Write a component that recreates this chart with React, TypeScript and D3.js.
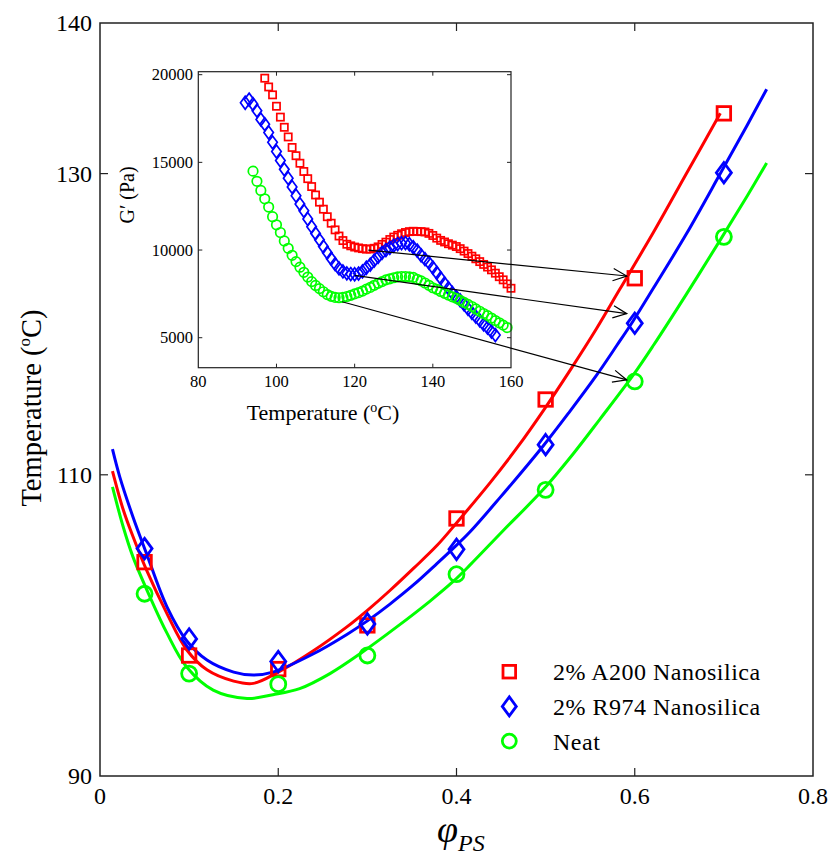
import React from 'react';
import * as d3 from 'd3';

const W = 832;
const H = 859;
const FONT = "'Liberation Serif', 'Times New Roman', serif";

// ---- main plot: transition temperature vs volume fraction of PS
const phiPoints = [0.05, 0.1, 0.2, 0.3, 0.4, 0.5, 0.6, 0.7];
const a200Points = [104.2, 98.0, 97.1, 100.0, 107.1, 115.0, 123.05, 134.0];
const r974Points = [105.1, 99.1, 97.6, 100.1, 105.05, 112.0, 120.06, 130.06];
const neatPoints = [102.1, 96.8, 96.1, 98.0, 103.4, 109.0, 116.2, 125.8];

// fitted curves
const a200FitPhi = [0.014, 0.026, 0.037, 0.052, 0.075, 0.097, 0.12, 0.15, 0.172, 0.2, 0.239, 0.277, 0.3, 0.325, 0.352, 0.378, 0.4, 0.438, 0.468, 0.499, 0.527, 0.557, 0.583, 0.621, 0.658, 0.696];
const a200FitT = [110.25, 107.7, 105.9, 103.7, 100.8, 98.4, 97.05, 96.3, 96.15, 96.9, 98.3, 99.9, 101.0, 102.3, 103.8, 105.3, 106.8, 109.5, 111.8, 114.4, 116.9, 119.7, 122.3, 126.1, 130.0, 134.0];

const r974FitPhi = [0.014, 0.022, 0.037, 0.052, 0.075, 0.097, 0.12, 0.15, 0.172, 0.194, 0.239, 0.277, 0.3, 0.325, 0.352, 0.378, 0.396, 0.415, 0.449, 0.497, 0.527, 0.557, 0.58, 0.598, 0.621, 0.658, 0.696, 0.726, 0.748];
const r974FitT = [111.7, 109.9, 107.2, 104.8, 101.25, 99.0, 97.7, 96.9, 96.7, 96.9, 98.1, 99.4, 100.3, 101.4, 102.7, 104.1, 105.1, 106.2, 108.5, 111.9, 114.2, 116.6, 118.6, 120.2, 122.4, 126.0, 130.0, 133.2, 135.6];

const neatFitPhi = [0.014, 0.026, 0.037, 0.056, 0.075, 0.097, 0.127, 0.165, 0.194, 0.224, 0.258, 0.295, 0.333, 0.37, 0.396, 0.415, 0.4525, 0.497, 0.531, 0.561, 0.598, 0.621, 0.658, 0.696, 0.726, 0.748];
const neatFitT = [109.2, 106.55, 104.55, 101.9, 99.5, 97.25, 95.7, 95.15, 95.4, 95.8, 96.8, 98.25, 99.9, 101.6, 102.9, 104.0, 106.3, 109.0, 111.4, 113.7, 116.6, 118.6, 122.0, 125.6, 128.5, 130.7];

// ---- inset: storage modulus vs temperature
const a200Temp = [97, 98, 99, 100, 101, 102, 103, 104, 105, 106, 107, 108, 109, 110, 111, 112, 113, 114, 115, 116, 117, 118, 119, 120, 121, 122, 123, 124, 125, 126, 127, 128, 129, 130, 131, 132, 133, 134, 135, 136, 137, 138, 139, 140, 141, 142, 143, 144, 145, 146, 147, 148, 149, 150, 151, 152, 153, 154, 155, 156, 157, 158, 159, 160];
const a200G = [19800, 19300, 18850, 18200, 17580, 17000, 16450, 15850, 15380, 14950, 14480, 14070, 13620, 13140, 12730, 12330, 11900, 11530, 11150, 10800, 10540, 10330, 10240, 10170, 10120, 10080, 10050, 10060, 10100, 10180, 10320, 10450, 10600, 10740, 10840, 10930, 11000, 11050, 11070, 11060, 11050, 11030, 10950, 10830, 10680, 10550, 10460, 10360, 10280, 10200, 10080, 9940, 9800, 9650, 9500, 9340, 9180, 9030, 8870, 8680, 8480, 8300, 8070, 7820];

const r974Temp = [92, 93, 94, 95, 96, 97, 98, 99, 100, 101, 102, 103, 104, 105, 106, 107, 108, 109, 110, 111, 112, 113, 114, 115, 116, 117, 118, 119, 120, 121, 122, 123, 124, 125, 126, 127, 128, 129, 130, 131, 132, 133, 134, 135, 136, 137, 138, 139, 140, 141, 142, 143, 144, 145, 146, 147, 148, 149, 150, 151, 152, 153, 154, 155, 156];
const r974G = [18400, 18580, 18320, 17950, 17450, 17180, 16700, 16140, 15620, 15100, 14600, 14100, 13600, 13100, 12620, 12240, 11770, 11330, 10950, 10580, 10200, 9850, 9510, 9200, 8950, 8780, 8670, 8630, 8620, 8660, 8780, 8990, 9170, 9400, 9610, 9840, 10000, 10130, 10250, 10340, 10390, 10400, 10330, 10160, 9970, 9700, 9480, 9280, 9000, 8700, 8400, 8100, 7820, 7550, 7330, 7130, 6900, 6650, 6420, 6200, 5990, 5760, 5570, 5350, 5150];

const neatTemp = [94, 95, 96, 97, 98, 99, 100, 101, 102, 103, 104, 105, 106, 107, 108, 109, 110, 111, 112, 113, 114, 115, 116, 117, 118, 119, 120, 121, 122, 123, 124, 125, 126, 127, 128, 129, 130, 131, 132, 133, 134, 135, 136, 137, 138, 139, 140, 141, 142, 143, 144, 145, 146, 147, 148, 149, 150, 151, 152, 153, 154, 155, 156, 157, 158, 159];
const neatG = [14500, 13920, 13400, 12920, 12450, 11900, 11440, 11000, 10520, 10100, 9700, 9340, 9020, 8730, 8460, 8200, 7980, 7800, 7620, 7460, 7360, 7300, 7280, 7300, 7350, 7420, 7500, 7570, 7660, 7770, 7870, 7990, 8100, 8200, 8300, 8360, 8420, 8470, 8490, 8490, 8470, 8440, 8330, 8240, 8120, 7990, 7850, 7760, 7640, 7530, 7430, 7330, 7250, 7130, 7010, 6900, 6780, 6640, 6510, 6380, 6260, 6120, 5980, 5850, 5720, 5580];

// arrows: inset minimum (T, G') -> main plot point (phi, T)
const arrowFromT = [123.5, 120, 116.8];
const arrowFromG = [10000, 8550, 7050];
const arrowToPhi = [0.591, 0.591, 0.591];
const arrowToT = [123.2, 120.7, 116.3];

const legendLabels = ['2% A200 Nanosilica', '2% R974 Nanosilica', 'Neat'];
const colors = ['#ff0000', '#0000ff', '#00ff00'];
const shapes = ['square', 'diamond', 'circle'];

const mainYTickLabels = [90, 110, 130, 140];
const mainYTickMarks = [110, 130];
const mainXTickLabels = [0, 0.2, 0.4, 0.6, 0.8];
const mainXTickMarks = [0.2, 0.4, 0.6];
const insetXTickLabels = [80, 100, 120, 140, 160];
const insetXTickMarks = [100, 120, 140];
const insetYTicks = [5000, 10000, 15000, 20000];

function Marker({ shape, cx, cy, color, size, sw }: any) {
  if (shape === 'square') {
    const s = size * 0.9;
    return <rect x={cx - s / 2} y={cy - s / 2} width={s} height={s} fill="none" stroke={color} strokeWidth={sw} />;
  }
  if (shape === 'diamond') {
    const w = size * 0.5, h = size * 0.68;
    return <path d={`M${cx},${cy - h}L${cx + w},${cy}L${cx},${cy + h}L${cx - w},${cy}Z`} fill="none" stroke={color} strokeWidth={sw} />;
  }
  return <circle cx={cx} cy={cy} r={size * 0.5} fill="none" stroke={color} strokeWidth={sw} />;
}

export default function App() {
  const x = d3.scaleLinear().domain([0, 0.8]).range([100, 813]);
  const y = d3.scaleLinear().domain([90, 140]).range([776, 23]);
  const ix = d3.scaleLinear().domain([80, 160]).range([198.3, 511]);
  const iy = d3.scaleLinear().domain([3290, 20170]).range([367.7, 71.7]);

  const line = d3.line<[number, number]>()
    .x(d => x(d[0])).y(d => y(d[1]))
    .curve(d3.curveCatmullRom.alpha(0.5));

  const fits = [
    d3.zip(a200FitPhi, a200FitT),
    d3.zip(r974FitPhi, r974FitT),
    d3.zip(neatFitPhi, neatFitT),
  ] as [number, number][][];
  const points = [a200Points, r974Points, neatPoints];
  const inset = [
    d3.zip(a200Temp, a200G),
    d3.zip(r974Temp, r974G),
    d3.zip(neatTemp, neatG),
  ];

  const [x0, x1] = x.range();
  const [y0, y1] = y.range();
  const [ix0, ix1] = ix.range();
  const [iy0, iy1] = iy.range();

  const txt = { fontFamily: FONT };

  return (
    <div style={{ position: 'absolute', left: 0, top: 0 }}>
      <svg width={W} height={H} style={{ display: 'block', fontFamily: FONT }}>
        <rect width={W} height={H} fill="#fff" />

        {/* fitted curves */}
        {fits.map((f, i) => (
          <path key={'fit' + i} d={line(f) || ''} fill="none" stroke={colors[i]} strokeWidth={3} />
        ))}

        {/* data points */}
        {points.map((s, i) => s.map((v, j) => (
          <Marker key={`p${i}-${j}`} shape={shapes[i]} cx={x(phiPoints[j])} cy={y(v)} color={colors[i]} size={15} sw={2.8} />
        )))}

        {/* main frame */}
        <rect x={x0} y={y1} width={x1 - x0} height={y0 - y1} fill="none" stroke="#222" strokeWidth={1.5} />
        {mainYTickMarks.map(t => (
          <g key={'yt' + t} stroke="#222" strokeWidth={1.2}>
            <line x1={x0} x2={x0 + 8} y1={y(t)} y2={y(t)} />
            <line x1={x1} x2={x1 - 8} y1={y(t)} y2={y(t)} />
          </g>
        ))}
        {mainXTickMarks.map(t => (
          <g key={'xt' + t} stroke="#222" strokeWidth={1.2}>
            <line x1={x(t)} x2={x(t)} y1={y0} y2={y0 - 8} />
            <line x1={x(t)} x2={x(t)} y1={y1} y2={y1 + 8} />
          </g>
        ))}
        {mainYTickLabels.map(t => (
          <text key={'yl' + t} style={txt} x={x0 - 8} y={y(t)} dy="0.35em" textAnchor="end" fontSize={24}>{t}</text>
        ))}
        {mainXTickLabels.map(t => (
          <text key={'xl' + t} style={txt} x={x(t)} y={804} textAnchor="middle" fontSize={24}>{t}</text>
        ))}
        <text style={txt} transform={`translate(41,${408}) rotate(-90)`} textAnchor="middle" fontSize={28.5}>
          Temperature  (<tspan fontSize={17} dy={-11}>o</tspan><tspan dy={11}>C)</tspan>
        </text>
        <text style={txt} x={437} y={842} fontSize={38} fontStyle="italic">
          φ<tspan fontSize={24} dy={9}>PS</tspan>
        </text>

        {/* inset */}
        <rect x={ix0} y={iy1} width={ix1 - ix0} height={iy0 - iy1} fill="#fff" />
        {inset.map((s, i) => s.map((d, j) => (
          <Marker key={`i${i}-${j}`} shape={shapes[i]} cx={ix(d[0])} cy={iy(d[1])} color={colors[i]} size={i === 0 ? 8 : 9.5} sw={1.7} />
        )))}
        <rect x={ix0} y={iy1} width={ix1 - ix0} height={iy0 - iy1} fill="none" stroke="#222" strokeWidth={1.2} />
        {insetXTickMarks.map(t => (
          <g key={'ixt' + t} stroke="#222" strokeWidth={1}>
            <line x1={ix(t)} x2={ix(t)} y1={iy0} y2={iy0 - 4} />
            <line x1={ix(t)} x2={ix(t)} y1={iy1} y2={iy1 + 4} />
          </g>
        ))}
        {insetYTicks.map(t => (
          <g key={'iyt' + t} stroke="#222" strokeWidth={1}>
            <line x1={ix0} x2={ix0 + 4} y1={iy(t)} y2={iy(t)} />
            <line x1={ix1} x2={ix1 - 4} y1={iy(t)} y2={iy(t)} />
          </g>
        ))}
        {insetYTicks.map(t => (
          <text key={'iyl' + t} style={txt} x={193} y={iy(t)} dy="0.35em" textAnchor="end" fontSize={16.5}>{t}</text>
        ))}
        {insetXTickLabels.map(t => (
          <text key={'ixl' + t} style={txt} x={ix(t)} y={387} textAnchor="middle" fontSize={16.5}>{t}</text>
        ))}
        <text style={txt} transform={`translate(134,195) rotate(-90)`} textAnchor="middle" fontSize={20}>G′ (Pa)</text>
        <text style={txt} x={323} y={420} textAnchor="middle" fontSize={22}>
          Temperature (<tspan fontSize={14} dy={-8}>o</tspan><tspan dy={8}>C)</tspan>
        </text>

        {/* arrows */}
        {arrowFromT.map((t, i) => {
          const sx = ix(t), sy = iy(arrowFromG[i]);
          const ex = x(arrowToPhi[i]), ey = y(arrowToT[i]);
          const a = Math.atan2(ey - sy, ex - sx);
          const len = 15, spread = 0.42;
          const p1 = [ex - len * Math.cos(a - spread), ey - len * Math.sin(a - spread)];
          const p2 = [ex - len * Math.cos(a + spread), ey - len * Math.sin(a + spread)];
          return (
            <g key={'ar' + i} stroke="#000" strokeWidth={1.2} fill="none">
              <line x1={sx} y1={sy} x2={ex} y2={ey} />
              <path d={`M${p1[0]},${p1[1]}L${ex},${ey}L${p2[0]},${p2[1]}`} />
            </g>
          );
        })}

        {/* legend */}
        {legendLabels.map((l, i) => (
          <g key={'lg' + i}>
            <Marker shape={shapes[i]} cx={509.3} cy={671.7 + i * 34.7} color={colors[i]} size={14} sw={2.8} />
            <text style={txt} x={553} y={671.7 + i * 34.7} dy="0.35em" fontSize={24} letterSpacing={0.5}>{l}</text>
          </g>
        ))}
      </svg>
    </div>
  );
}
